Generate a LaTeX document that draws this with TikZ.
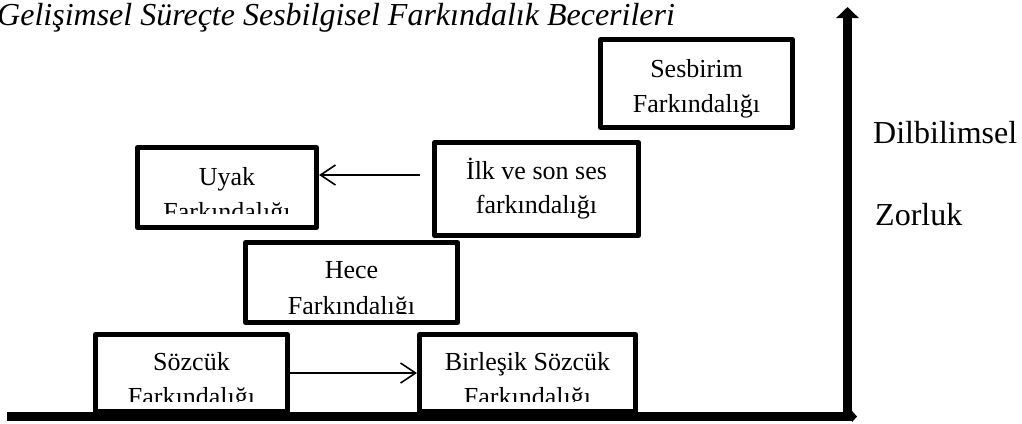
\documentclass[tikz,border=0pt]{standalone}
\usepackage{fontspec}
\setmainfont{Liberation Serif}
\usetikzlibrary{arrows.meta,calc}
\begin{document}
\begin{tikzpicture}[x=1pt,y=-1pt,
  skillbox/.style={draw, line width=5pt, line join=round, fill=white,
    inner sep=0pt, outer sep=2.5pt},
  boxtext/.style={font=\fontsize{26}{30}\selectfont, anchor=base, inner sep=0pt},
  bigtext/.style={font=\fontsize{32}{38}\selectfont, anchor=base west, inner sep=0pt},
  conn/.style={line width=1.6pt,
    -{Straight Barb[length=15pt,width=20pt,line width=1.6pt]}},
  axis/.style={line width=9pt, line cap=butt},
]
\useasboundingbox (0,0) rectangle (1022,423);

% title
\node[bigtext, font=\fontsize{32}{38}\selectfont\itshape] (title) at (-3,25)
  {Gelişimsel Süreçte Sesbilgisel Farkındalık Becerileri};

% skill boxes
\node[skillbox, minimum width=192pt, minimum height=88pt] (sesbirim) at (696.5,83.5) {};
\node[skillbox, minimum width=179pt, minimum height=80pt] (uyak) at (227,187.5) {};
\node[skillbox, minimum width=204pt, minimum height=93pt] (ilk) at (536.5,189) {};
\node[skillbox, minimum width=212pt, minimum height=80pt] (hece) at (351.5,282.5) {};
\node[skillbox, minimum width=192pt, minimum height=77pt] (sozcuk) at (191.5,373) {};
\node[skillbox, minimum width=216pt, minimum height=77pt] (birlesik) at (527.5,373) {};

% box labels
\node[boxtext] (sesbirimA) at ($(sesbirim.north)+(0,40)$) {Sesbirim};
\node[boxtext] (sesbirimB) at ($(sesbirim.north)+(0,75)$) {Farkındalığı};

\node[boxtext] (ilkA) at ($(ilk.north)+(0,39)$) {İlk ve son ses};
\node[boxtext] (ilkB) at ($(ilk.north)+(0,73)$) {farkındalığı};

\begin{scope}
  \clip (uyak.north west) rectangle ($(uyak.south east)+(0,-17)$);
  \node[boxtext] (uyakA) at ($(uyak.north)+(0,40)$) {Uyak};
  \node[boxtext] (uyakB) at ($(uyak.north)+(0,75)$) {Farkındalığı};
\end{scope}

\begin{scope}
  \clip (hece.north west) rectangle ($(hece.south east)+(0,-12)$);
  \node[boxtext] (heceA) at ($(hece.north)+(0,38)$) {Hece};
  \node[boxtext] (heceB) at ($(hece.north)+(0,74)$) {Farkındalığı};
\end{scope}

\begin{scope}
  \clip (sozcuk.north west) rectangle ($(sozcuk.south east)+(0,-13)$);
  \node[boxtext] (sozcukA) at ($(sozcuk.north)+(0,38)$) {Sözcük};
  \node[boxtext] (sozcukB) at ($(sozcuk.north)+(0,73)$) {Farkındalığı};
\end{scope}

\begin{scope}
  \clip (birlesik.north west) rectangle ($(birlesik.south east)+(0,-13)$);
  \node[boxtext] (birlesikA) at ($(birlesik.north)+(0,38)$) {Birleşik Sözcük};
  \node[boxtext] (birlesikB) at ($(birlesik.north)+(0,73)$) {Farkındalığı};
\end{scope}

% connectors
\draw[conn] ($(ilk.west)+(-12,-14)$) coordinate (ilkstart) -- (ilkstart -| uyak.east);
\draw[conn] (sozcuk.east) -- (birlesik.west);

% axes
\coordinate (xstart) at (7,416.5);
\coordinate (xtip) at (857,416.5);
\coordinate (ybase) at (847.5,421);
\coordinate (ytip) at (847.5,7);
\draw[axis, -{Triangle[length=5pt,width=11pt]}] (xstart) -- (xtip);
\draw[axis, -{Triangle[length=11pt,width=22pt]}] (ybase) -- (ytip);

% axis caption
\node[bigtext] (dil) at (873,143) {Dilbilimsel};
\node[bigtext] (zor) at (875,225) {Zorluk};
\end{tikzpicture}
\end{document}
